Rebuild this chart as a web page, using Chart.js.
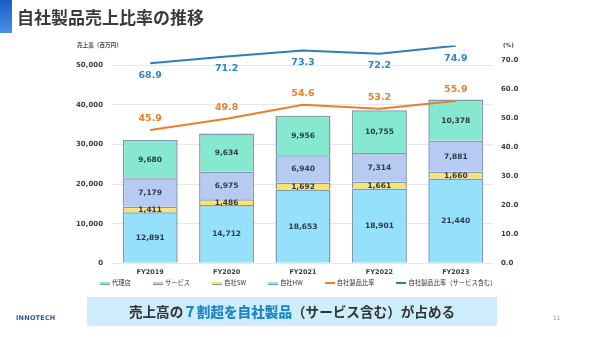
<!DOCTYPE html>
<html lang="ja">
<head>
<meta charset="utf-8">
<script src="https://cdn.jsdelivr.net/npm/chart.js@4"></script>
<style>
body { margin: 0; width: 600px; height: 337px; position: relative; overflow: hidden; background: #fff; font-family: "Noto Sans CJK JP", sans-serif; }
#wrap { position: absolute; left: 0; top: 0; width: 600px; height: 337px; }
.mark { position: absolute; left: 0; top: 0; width: 12px; height: 33px; background: linear-gradient(#1b5cc9, #4a90e6); }
.title { position: absolute; left: 17px; top: 8px; font-size: 17px; line-height: 18px; font-weight: bold; color: #3a3a3a; }
.unit { position: absolute; top: 42px; font-size: 5.6px; line-height: 7px; font-weight: bold; color: #444; }
#legend { position: absolute; left: 100px; top: 280px; display: flex; gap: 22px; font-size: 6.3px; line-height: 6px; color: #333; white-space: nowrap; }
#legend span.item { display: flex; align-items: center; }
#legend span.sw { display: inline-block; width: 10px; height: 3px; margin-right: 2px; box-sizing: border-box; }
.banner { position: absolute; left: 87px; top: 297px; width: 410px; height: 29px; background: #cdedfb; text-align: center; font-size: 13.6px; line-height: 29px; font-weight: bold; color: #333; }
.banner b { color: #1e86c6; }
.logo { position: absolute; left: 16px; top: 314px; font-family: "DejaVu Sans", sans-serif; font-size: 6.5px; font-weight: bold; color: #2a58a8; letter-spacing: 0.2px; }
.page { position: absolute; left: 553px; top: 314px; font-family: "DejaVu Sans", sans-serif; font-size: 6px; color: #999; }
</style>
</head>
<body>
<div id="wrap"><canvas id="chart" width="600" height="337"></canvas></div>
<div class="mark"></div>
<div class="title">自社製品売上比率の推移</div>
<div class="unit" style="left:77px">売上高（百万円）</div>
<div class="unit" style="left:503px; font-family:'DejaVu Sans'">(%)</div>
<div id="legend"></div>
<div class="banner">売上高の<b>７割超を自社製品</b>（サービス含む）が占める</div>
<div class="logo">INNOTECH</div>
<div class="page">11</div>
<script>
// データ
var years = ['FY2019', 'FY2020', 'FY2021', 'FY2022', 'FY2023']
var hwSales = [12891, 14712, 18653, 18901, 21440]
var swSales = [1411, 1486, 1692, 1661, 1660]
var serviceSales = [7179, 6975, 6940, 7314, 7881]
var agentSales = [9680, 9634, 9956, 10755, 10378]
var ownRatio = [45.9, 49.8, 54.6, 53.2, 55.9]
var ownRatioWithService = [68.9, 71.2, 73.3, 72.2, 74.9]
var salesTicks = [0, 10000, 20000, 30000, 40000, 50000]
var ratioTicks = [0, 10, 20, 30, 40, 50, 60, 70]

// 凡例の並び順 (datasetIndex -> 表示順)
var legendRank = [3, 2, 1, 0, 4, 5]

var barBorder = '#8199ad'

// 棒と線の上に数値を描く
var valueLabels = {
    id: 'valueLabels',
    afterDatasetsDraw: function (chart) {
        var ctx = chart.ctx
        ctx.save()
        ctx.textAlign = 'center'
        ctx.textBaseline = 'middle'
        chart.data.datasets.forEach(function (ds, i) {
            var meta = chart.getDatasetMeta(i)
            meta.data.forEach(function (el, j) {
                var v = ds.data[j]
                if (ds.type === 'line') {
                    ctx.font = 'bold 9.5px "DejaVu Sans"'
                    ctx.fillStyle = ds.labelColor
                    ctx.fillText(v.toFixed(1), el.x, el.y + ds.labelOffset)
                } else {
                    ctx.font = 'bold 7.5px "DejaVu Sans"'
                    ctx.fillStyle = '#2c3b4a'
                    ctx.fillText(v.toLocaleString('en-US'), el.x, (el.y + el.base) / 2 + 0.5)
                }
            })
        })
        ctx.restore()
    }
}

// HTML の凡例
var htmlLegend = {
    id: 'htmlLegend',
    afterUpdate: function (chart) {
        var box = document.getElementById('legend')
        box.innerHTML = ''
        var items = chart.options.plugins.legend.labels.generateLabels(chart)
        items.sort(function (a, b) { return legendRank[a.datasetIndex] - legendRank[b.datasetIndex] })
        items.forEach(function (it) {
            var ds = chart.data.datasets[it.datasetIndex]
            var item = document.createElement('span')
            item.className = 'item'
            var sw = document.createElement('span')
            sw.className = 'sw'
            if (ds.type === 'line') {
                sw.style.height = '2px'
                sw.style.background = ds.borderColor
            } else {
                sw.style.background = ds.backgroundColor
                sw.style.borderBottom = '1px solid ' + barBorder
            }
            item.appendChild(sw)
            item.appendChild(document.createTextNode(it.text))
            box.appendChild(item)
        })
    }
}

var ctx = document.getElementById('chart').getContext('2d')
var chart = new Chart(ctx, {
    data: {
        labels: years,
        datasets: [
            { type: 'bar', label: '自社HW', data: hwSales, backgroundColor: '#95e0fa', borderColor: barBorder, borderWidth: 1.5, yAxisID: 'y', order: 1 },
            { type: 'bar', label: '自社SW', data: swSales, backgroundColor: '#fce36a', borderColor: barBorder, borderWidth: 1.5, yAxisID: 'y', order: 1 },
            { type: 'bar', label: 'サービス', data: serviceSales, backgroundColor: '#b7caf2', borderColor: barBorder, borderWidth: 1.5, yAxisID: 'y', order: 1 },
            { type: 'bar', label: '代理店', data: agentSales, backgroundColor: '#85e8cf', borderColor: barBorder, borderWidth: 1.5, yAxisID: 'y', order: 1 },
            { type: 'line', label: '自社製品比率', data: ownRatio, borderColor: '#e97f2c', backgroundColor: '#e97f2c', borderWidth: 2, pointRadius: 0, tension: 0, yAxisID: 'y2', order: 0, labelColor: '#e9812e', labelOffset: -11.5 },
            { type: 'line', label: '自社製品比率（サービス含む）', data: ownRatioWithService, borderColor: '#2b7fb4', backgroundColor: '#2b7fb4', borderWidth: 2, pointRadius: 0, tension: 0, yAxisID: 'y2', order: 0, labelColor: '#2f86bd', labelOffset: 12.4 }
        ]
    },
    options: {
        responsive: false,
        animation: false,
        devicePixelRatio: 1,
        layout: { padding: { top: 45.5, bottom: 57.7, left: 0, right: 0 } },
        plugins: {
            legend: { display: false },
            tooltip: { enabled: false }
        },
        datasets: { bar: { barPercentage: 0.72, categoryPercentage: 1 } },
        scales: {
            x: {
                stacked: true,
                grid: { display: false, drawTicks: false },
                border: { display: false },
                ticks: { padding: 5, color: '#404040', font: { family: 'DejaVu Sans', size: 6.5, weight: 'bold' } },
                afterFit: function (s) { s.height = 16 }
            },
            y: {
                stacked: true,
                position: 'left',
                min: 0,
                max: 55000,
                afterBuildTicks: function (s) { s.ticks = salesTicks.map(function (v) { return { value: v } }) },
                grid: { color: '#e8e8e8', lineWidth: 1, drawTicks: false },
                border: { display: false },
                ticks: {
                    padding: 9,
                    color: '#404040',
                    font: { family: 'DejaVu Sans', size: 7, weight: 'bold' },
                    callback: function (v) { return v.toLocaleString('en-US') }
                },
                afterFit: function (s) { s.width = 112 }
            },
            y2: {
                position: 'right',
                min: 0,
                max: 75,
                afterBuildTicks: function (s) { s.ticks = ratioTicks.map(function (v) { return { value: v } }) },
                grid: { display: false, drawTicks: false },
                border: { display: false },
                ticks: {
                    padding: 7,
                    color: '#404040',
                    font: { family: 'DejaVu Sans', size: 7, weight: 'bold' },
                    callback: function (v) { return v.toFixed(1) }
                },
                afterFit: function (s) { s.width = 106 }
            }
        }
    },
    plugins: [valueLabels, htmlLegend]
})
</script>
</body>
</html>
